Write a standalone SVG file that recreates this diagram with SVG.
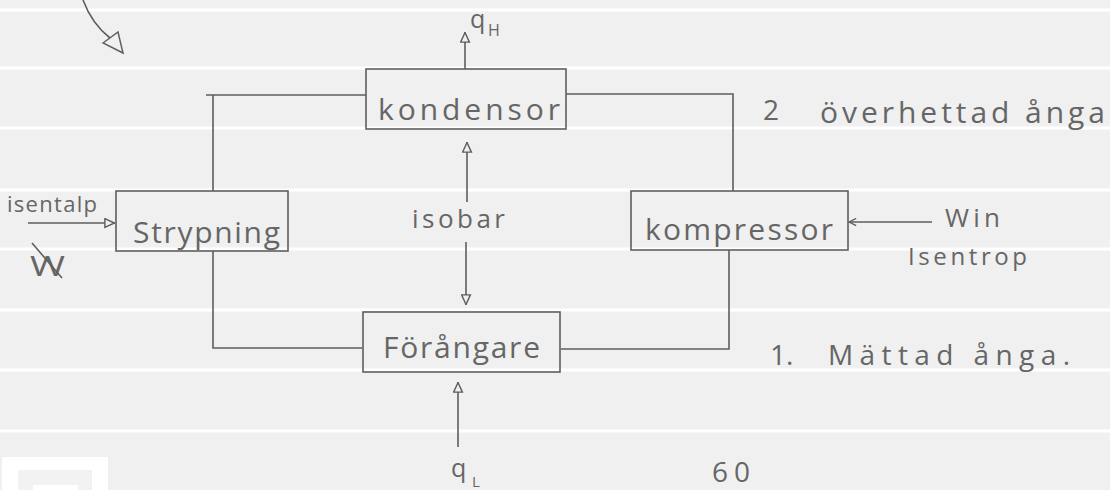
<svg xmlns="http://www.w3.org/2000/svg" width="1110" height="490" viewBox="0 0 1110 490">
<defs>
<style>
.rule{stroke:#ffffff;stroke-width:3}
.box{fill:none;stroke:#5e5e5e;stroke-width:1.6}
.ln{fill:none;stroke:#5e5e5e;stroke-width:1.6}
.t{font-family:"Open Sans","Liberation Sans",sans-serif;fill:#666666;font-weight:400}
</style>
<marker id="open" viewBox="0 0 10 10" refX="10" refY="5" markerUnits="userSpaceOnUse" markerWidth="11" markerHeight="11" orient="auto">
<path d="M0.8,1 L9.5,5 L0.8,9 Z" fill="#efefef" stroke="#5e5e5e" stroke-width="1.3"/>
</marker>
<marker id="chev" viewBox="0 0 10 10" refX="9" refY="5" markerUnits="userSpaceOnUse" markerWidth="9" markerHeight="9" orient="auto">
<path d="M1,1 L9,5 L1,9" fill="none" stroke="#5e5e5e" stroke-width="1.4"/>
</marker>
</defs>
<rect width="1110" height="490" fill="#f0f0f0"/>
<g id="paper">
<line class="rule" x1="0" y1="10" x2="1110" y2="10"/>
<line class="rule" x1="0" y1="68" x2="1110" y2="68"/>
<line class="rule" x1="0" y1="128" x2="1110" y2="128"/>
<line class="rule" x1="0" y1="190" x2="1110" y2="190"/>
<line class="rule" x1="0" y1="249" x2="1110" y2="249"/>
<line class="rule" x1="0" y1="310" x2="1110" y2="310"/>
<line class="rule" x1="0" y1="370" x2="1110" y2="370"/>
<line class="rule" x1="0" y1="431" x2="1110" y2="431"/>
<rect x="2" y="457" width="106" height="33" fill="#ffffff"/>
<rect x="18" y="470" width="74" height="20" fill="#f2f2f2"/>
<rect x="33" y="485" width="45" height="5" fill="#ffffff"/>
</g>
<g id="connectors">
<path class="ln" d="M366,95 H206 M213,95 V191"/>
<path class="ln" d="M213,251 V348 H362"/>
<path class="ln" d="M561,349 H729 V250"/>
<path class="ln" d="M566,94 H733 V191"/>
<line class="ln" x1="465" y1="69" x2="465" y2="32" marker-end="url(#open)"/>
<line class="ln" x1="467" y1="202" x2="467" y2="142" marker-end="url(#open)"/>
<line class="ln" x1="466" y1="242" x2="466" y2="305" marker-end="url(#open)"/>
<line class="ln" x1="458" y1="447" x2="458" y2="382" marker-end="url(#open)"/>
<line class="ln" x1="28" y1="223" x2="115" y2="223" marker-end="url(#open)"/>
<line class="ln" x1="932" y1="222" x2="849" y2="222" marker-end="url(#chev)"/>
<path class="ln" d="M83,0 Q92,24 110,38"/>
<polygon points="103,43 118,32 123,53" fill="none" stroke="#5e5e5e" stroke-width="1.5"/>
</g>
<g id="kondensor">
<rect class="box" x="366" y="69" width="200" height="60"/>
<text class="t" x="378" y="120" font-size="30" textLength="182" lengthAdjust="spacing">kondensor</text>
</g>
<g id="strypning">
<rect class="box" x="116" y="191" width="172" height="60"/>
<text class="t" x="133" y="243" font-size="30" textLength="147" lengthAdjust="spacing">Strypning</text>
</g>
<g id="kompressor">
<rect class="box" x="631" y="191" width="217" height="59"/>
<text class="t" x="645" y="240" font-size="30" textLength="188" lengthAdjust="spacing">kompressor</text>
</g>
<g id="forangare">
<rect class="box" x="363" y="312" width="197" height="60"/>
<text class="t" x="383" y="358" font-size="30" textLength="157" lengthAdjust="spacing">Förångare</text>
</g>
<g id="labels">
<text class="t" x="470" y="28" font-size="25">q</text>
<text class="t" x="488" y="36" font-size="16">H</text>
<text class="t" x="451" y="477" font-size="25">q</text>
<text class="t" x="472" y="487" font-size="15">L</text>
<text class="t" x="412" y="228" font-size="26" textLength="93" lengthAdjust="spacing">isobar</text>
<text class="t" x="7" y="212" font-size="22" textLength="90" lengthAdjust="spacing">isentalp</text>
<text class="t" x="30" y="276" font-size="28" textLength="35" lengthAdjust="spacingAndGlyphs">W</text>
<path class="ln" d="M32,243 L62,278"/>
<text class="t" x="945" y="227" font-size="26" textLength="55" lengthAdjust="spacing">Win</text>
<text class="t" x="908" y="265" font-size="24" textLength="119" lengthAdjust="spacing">Isentrop</text>
<text class="t" x="763" y="120" font-size="28">2</text>
<text class="t" x="820" y="123" font-size="30" textLength="285" lengthAdjust="spacing">överhettad ånga</text>
<text class="t" x="770" y="365" font-size="28">1.</text>
<text class="t" x="828" y="365" font-size="28" textLength="242" lengthAdjust="spacing">Mättad ånga.</text>
<text class="t" x="712" y="482" font-size="28" textLength="38" lengthAdjust="spacing">60</text>
</g>
</svg>
